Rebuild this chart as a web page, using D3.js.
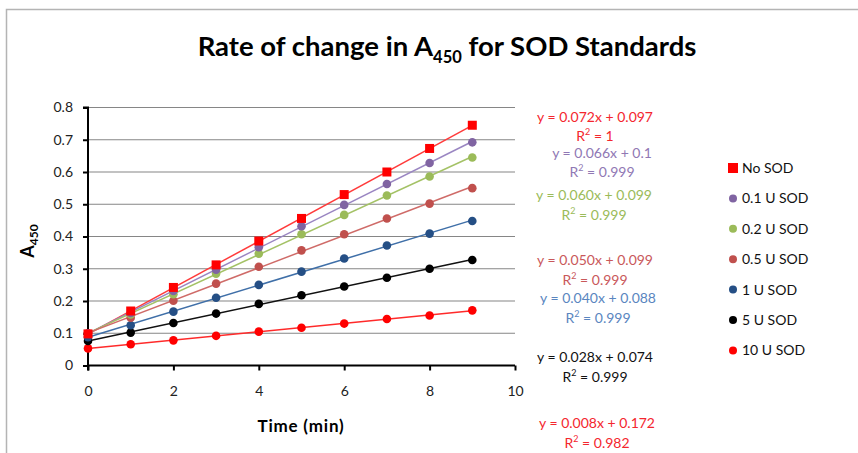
<!DOCTYPE html>
<html>
<head>
<meta charset="utf-8">
<script src="https://cdn.jsdelivr.net/npm/d3@7/dist/d3.min.js"></script>
<style>
  body { margin: 0; background: #fff; }
  svg { display: block; font-family: Lato, "Open Sans", sans-serif; }
</style>
</head>
<body>
<div id="chart"></div>
<script>
// time points (min)
var times = [0, 1, 2, 3, 4, 5, 6, 7, 8, 9];

// series
var seriesNames = ["No SOD", "0.1 U SOD", "0.2 U SOD", "0.5 U SOD", "1 U SOD", "5 U SOD", "10 U SOD"];
var noSOD   = [0.098, 0.169, 0.242, 0.312, 0.386, 0.456, 0.530, 0.600, 0.673, 0.745];
var sod01   = [0.100, 0.163, 0.231, 0.297, 0.367, 0.432, 0.498, 0.563, 0.628, 0.692];
var sod02   = [0.099, 0.158, 0.221, 0.285, 0.347, 0.407, 0.467, 0.527, 0.586, 0.645];
var sod05   = [0.099, 0.148, 0.201, 0.254, 0.306, 0.357, 0.407, 0.456, 0.502, 0.550];
var sod1    = [0.088, 0.125, 0.167, 0.210, 0.250, 0.291, 0.332, 0.372, 0.409, 0.448];
var sod5    = [0.076, 0.102, 0.132, 0.161, 0.191, 0.218, 0.245, 0.272, 0.300, 0.327];
var sod10   = [0.053, 0.066, 0.078, 0.092, 0.105, 0.117, 0.130, 0.144, 0.155, 0.171];

// trendline labels as shown on the chart
var equations = ["y = 0.072x + 0.097", "y = 0.066x + 0.1", "y = 0.060x + 0.099", "y = 0.050x + 0.099",
                 "y = 0.040x + 0.088", "y = 0.028x + 0.074", "y = 0.008x + 0.172"];
var rSquared  = ["1", "0.999", "0.999", "0.999", "0.999", "0.999", "0.982"];

var yTicks = [0, 0.1, 0.2, 0.3, 0.4, 0.5, 0.6, 0.7, 0.8];
var xTicks = [0, 2, 4, 6, 8, 10];

var allValues = [noSOD, sod01, sod02, sod05, sod1, sod5, sod10];

// styles
var markerColor = ["#ff0000", "#8064a2", "#9bbb59", "#c0504d", "#254f85", "#000000", "#ff0000"];
var lineColor   = ["#ff3b3b", "#9a86c2", "#a4c266", "#cf6b68", "#3f6fa8", "#111111", "#ff2a2a"];
var labelColor  = ["#f4262e", "#9078b4", "#9bbb59", "#c9585a", "#5a86c0", "#111111", "#f4262e"];
// where the labels were dragged to (centre x, baseline y) in the original
var labelPos = [[595, 122, 141], [602, 158, 177], [594, 200, 220], [595, 265, 285],
                [598, 303, 323], [595, 362, 382], [597, 428, 448]];

var width = 858, height = 453;
var svg = d3.select("#chart").append("svg")
    .attr("width", width)
    .attr("height", height);

// chart border (top / left visible)
svg.append("path")
    .attr("d", "M6.5," + height + "V9.5H" + width)
    .attr("fill", "none")
    .attr("stroke", "#b4b4b4")
    .attr("stroke-width", 1.5);

var x = d3.scaleLinear().domain([0, 10]).range([88, 515]);
var y = d3.scaleLinear().domain([0, 0.8]).range([365.5, 107.5]);

// gridlines
svg.append("g")
    .selectAll("line")
    .data(yTicks.slice(1))
    .enter().append("line")
    .attr("x1", x(0)).attr("x2", x(10))
    .attr("y1", function (d) { return y(d); })
    .attr("y2", function (d) { return y(d); })
    .attr("stroke", "#868686")
    .attr("stroke-width", 1.2);

// axes
var yAxis = svg.append("g")
    .attr("transform", "translate(" + x(0) + ",0)")
    .call(d3.axisLeft(y).tickValues(yTicks).tickSize(5).tickPadding(10)
        .tickFormat(function (d) { return d === 0 ? "0" : d3.format(".1f")(d); }));
var xAxis = svg.append("g")
    .attr("transform", "translate(0," + y(0) + ")")
    .call(d3.axisBottom(x).tickValues(xTicks).tickSize(5).tickPadding(16));

[yAxis, xAxis].forEach(function (ax) {
    ax.select(".domain").attr("stroke", "#000").attr("stroke-width", 2);
    ax.selectAll(".tick line").attr("stroke", "#000").attr("stroke-width", 2);
    ax.selectAll(".tick text").attr("fill", "#222")
        .style("font-size", "14px").style("font-family", "Lato, sans-serif");
});
yAxis.select(".domain").attr("d", "M-5," + y(0.8) + "H0V" + (y(0) + 5));
xAxis.select(".domain").attr("d", "M" + x(0) + ",0H" + x(10));

// trendlines (least squares over the points)
allValues.forEach(function (vals, i) {
    var mx = d3.mean(times), my = d3.mean(vals);
    var sxy = d3.sum(times, function (t, j) { return (t - mx) * (vals[j] - my); });
    var sxx = d3.sum(times, function (t) { return (t - mx) * (t - mx); });
    var b = sxy / sxx, a = my - b * mx;
    var ends = [times[0], times[times.length - 1]];
    svg.append("path")
        .datum(ends)
        .attr("d", d3.line()
            .x(function (t) { return x(t); })
            .y(function (t) { return y(a + b * t); }))
        .attr("fill", "none")
        .attr("stroke", lineColor[i])
        .attr("stroke-width", 1.5);
});

// markers, drawn last series first so No SOD sits on top
for (var i = allValues.length - 1; i >= 0; i--) {
    var g = svg.append("g").attr("fill", markerColor[i]);
    if (i === 0) {
        g.selectAll("rect")
            .data(allValues[i])
            .enter().append("rect")
            .attr("x", function (d, j) { return x(times[j]) - 4.5; })
            .attr("y", function (d) { return y(d) - 4.5; })
            .attr("width", 9).attr("height", 9);
    } else {
        g.selectAll("circle")
            .data(allValues[i])
            .enter().append("circle")
            .attr("cx", function (d, j) { return x(times[j]); })
            .attr("cy", function (d) { return y(d); })
            .attr("r", 4.3);
    }
}

// trendline equations
equations.forEach(function (eq, i) {
    var p = labelPos[i];
    svg.append("text")
        .attr("x", p[0]).attr("y", p[1])
        .attr("text-anchor", "middle")
        .attr("fill", labelColor[i])
        .style("font-size", "14px")
        .text(eq);
    var r = svg.append("text")
        .attr("x", p[0]).attr("y", p[2])
        .attr("text-anchor", "middle")
        .attr("fill", labelColor[i])
        .style("font-size", "14px");
    r.append("tspan").text("R");
    r.append("tspan").attr("dy", -6).style("font-size", "9px").text("2");
    r.append("tspan").attr("dy", 6).text(" = " + rSquared[i]);
});

// legend
var legend = svg.selectAll(".legend")
    .data(seriesNames)
    .enter().append("g")
    .attr("class", "legend")
    .attr("transform", function (d, i) { return "translate(733," + (168 + i * 30.4) + ")"; });
legend.each(function (d, i) {
    var el = d3.select(this);
    if (i === 0) {
        el.append("rect").attr("x", -5).attr("y", -5).attr("width", 10).attr("height", 10)
            .attr("fill", markerColor[i]);
    } else {
        el.append("circle").attr("r", 4).attr("fill", markerColor[i]);
    }
});
legend.append("text")
    .attr("x", 9).attr("y", 5)
    .attr("fill", "#111")
    .style("font-size", "14px")
    .text(function (d) { return d; });

// title
var title = svg.append("text")
    .attr("x", 447).attr("y", 56)
    .attr("text-anchor", "middle")
    .style("font-size", "27.5px").style("font-weight", "bold");
title.append("tspan").text("Rate of change in A");
title.append("tspan").attr("dy", 7).style("font-size", "16.5px").text("450");
title.append("tspan").attr("dy", -7).text(" for SOD Standards");

// axis titles
var yt = svg.append("text")
    .attr("transform", "translate(34,241) rotate(-90)")
    .attr("text-anchor", "middle")
    .style("font-size", "18px").style("font-weight", "bold");
yt.append("tspan").text("A");
yt.append("tspan").attr("dy", 4).style("font-size", "12px").text("450");

svg.append("text")
    .attr("x", 301).attr("y", 432)
    .attr("text-anchor", "middle")
    .style("font-size", "17px").style("font-weight", "bold")
    .style("letter-spacing", "0.8px")
    .text("Time (min)");
</script>
</body>
</html>
